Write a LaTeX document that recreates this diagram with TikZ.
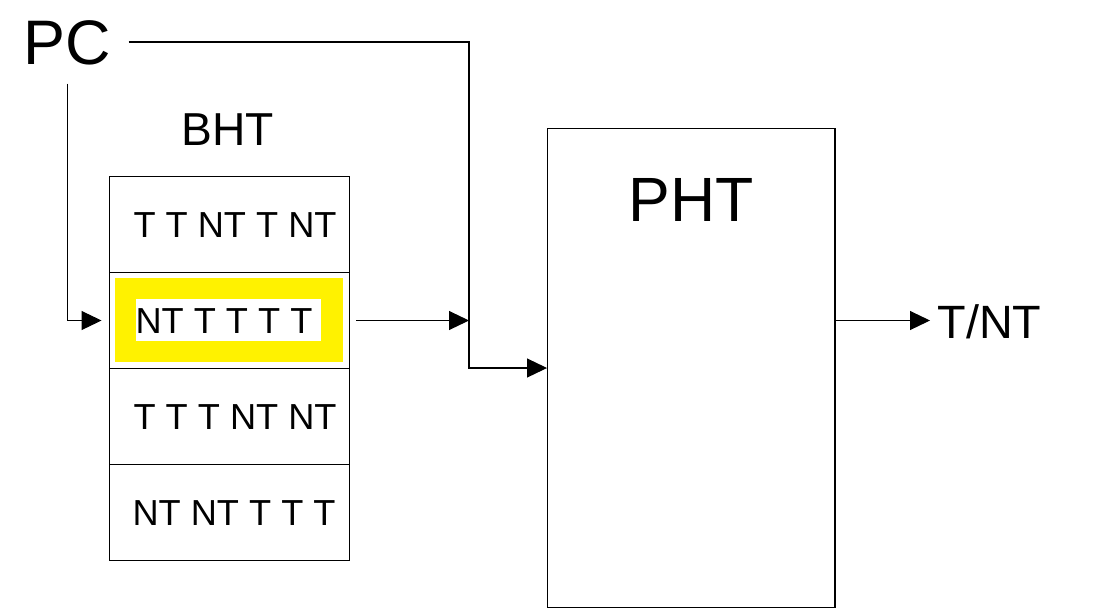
\documentclass[tikz,border=0pt]{standalone}
\usepackage{fontspec}
\setmainfont{Liberation Sans}
\usetikzlibrary{arrows.meta}
\tikzset{
    arr/.style={-{Triangle[length=0.4cm,width=0.38cm]}},
    bhtrow/.style={draw,minimum width=4.8cm,minimum height=1.92cm,inner sep=0pt,outer sep=0pt},
    bits/.style={inner sep=0pt,anchor=base west,font=\fontsize{20.6}{24}\selectfont},
}
\begin{document}
\begin{tikzpicture}[x=0.02cm,y=-0.02cm,line width=0.6pt]
                    \useasboundingbox (0,0) rectangle (1101,609);
                    \fill[yellow] (115,278) rectangle (343,362);
                    \fill[white] (136,299) rectangle (321,341);
                    \foreach \i in {1,...,4}
                    {
                        \node[bhtrow] (row\i) at (229.5,{128.5+96*\i}) {};
                    }
                    \foreach \x/\y/\b [count=\i] in {133/237/{T T NT T NT},135/333/{NT T T T T},133/429/{T T T NT NT},132/525/{NT NT T T T}}
                    {
                        \node[bits] (bits\i) at (\x,\y) {\b};
                    }
                    \node[inner sep=0pt,font=\fontsize{26.3}{30}\selectfont] (bht) at (228,130) {BHT};
                    \node[inner xsep=0.34cm,inner ysep=0.37cm,text height=0.9cm,text depth=0pt,font=\fontsize{35.8}{40}\selectfont] (pc) at (67.5,42) {PC};
                    \node[draw,minimum width=5.76cm,minimum height=9.6cm,inner sep=0pt,outer sep=0pt] (pht) at (691,368) {};
                    \node[inner sep=0pt,font=\fontsize{35.6}{40}\selectfont] (phtname) at (691,200) {PHT};
                    \node[anchor=west,inner xsep=0.14cm,inner ysep=0pt,text height=0.7cm,text depth=0pt,font=\fontsize{26.6}{30}\selectfont] (tnt) at (930,320.5) {T/NT};
                    \coordinate (jn) at (469,320.5);
                    \draw[arr] (pc.east) -| (jn) |- (pht.west);
                    \draw[arr,shorten >=0.16cm] (pc.south) |- (row2.west);
                    \draw[arr,shorten <=0.14cm] (row2.east) -- (jn);
                    \draw[arr] (pht.east |- tnt.west) -- (tnt.west);
\end{tikzpicture}
\end{document}
